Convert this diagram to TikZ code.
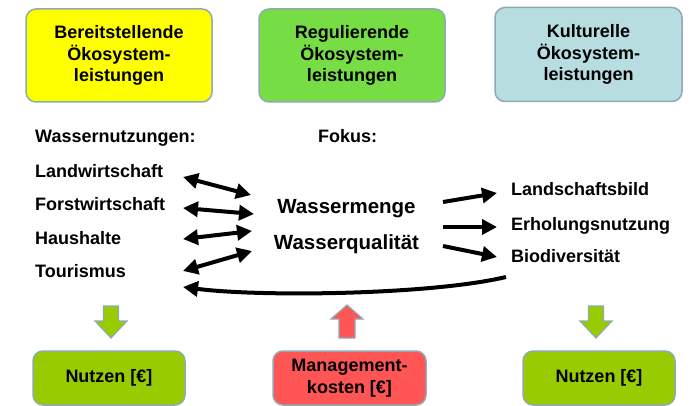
\documentclass[tikz,border=0pt]{standalone}
\usepackage{fontspec}
\setmainfont{Liberation Sans}
\usetikzlibrary{arrows.meta}
\definecolor{cyellow}{RGB}{255,255,0}
\definecolor{cgreen}{RGB}{119,221,68}
\definecolor{cblue}{RGB}{183,221,224}
\definecolor{cnutz}{RGB}{153,204,0}
\definecolor{cred}{RGB}{255,85,85}
\definecolor{cborder}{RGB}{145,170,178}
\begin{document}
\begin{tikzpicture}[x=1pt,y=-1pt,
  box/.style={draw=cborder, line width=1.5pt, rounded corners=10pt, inner sep=0pt,
    align=center, font=\fontsize{18}{21.5}\selectfont\bfseries},
  lbl/.style={anchor=base west, inner sep=0pt, font=\fontsize{18}{21}\selectfont\bfseries},
  bigl/.style={anchor=base, inner sep=0pt, font=\fontsize{20.5}{24}\selectfont\bfseries},
  arr/.style={line width=4pt, -{Triangle[length=15pt,width=15pt]}},
  darr/.style={line width=4pt, {Triangle[length=15pt,width=15pt]}-{Triangle[length=15pt,width=15pt]}},
  blk/.style={draw=cborder, line width=1.2pt, line join=miter}]
\useasboundingbox (0,0) rectangle (691,406);

% top boxes
\node[box, fill=cyellow, minimum width=186pt, minimum height=93pt] (b1) at (119,55.5)
  {Bereitstellende\\Ökosystem-\\leistungen};
\node[box, fill=cgreen, minimum width=186pt, minimum height=93pt] (b2) at (352,55.5)
  {Regulierende\\Ökosystem-\\leistungen};
\node[box, fill=cblue, minimum width=187pt, minimum height=94pt] (b3) at (588.5,54.5)
  {Kulturelle\\Ökosystem-\\leistungen};

% bottom boxes
\node[box, fill=cnutz, minimum width=152pt, minimum height=54pt] (n1) at (109,378)
  {Nutzen [€]};
\node[box, fill=cred, minimum width=153pt, minimum height=54pt] (mk) at (349.5,378)
  {Management-\\kosten [€]};
\node[box, fill=cnutz, minimum width=152pt, minimum height=54pt] (n2) at (599,378)
  {Nutzen [€]};

% left labels
\node[lbl] (wn) at (35,143) {Wassernutzungen:};
\node[lbl] (lw) at (35,178) {Landwirtschaft};
\node[lbl] (fw) at (35,211) {Forstwirtschaft};
\node[lbl] (hh) at (35,244) {Haushalte};
\node[lbl] (tr) at (35,278) {Tourismus};

% center labels
\node[lbl] (fk) at (318,143) {Fokus:};
\node[bigl] (wm) at (346.5,214) {Wassermenge};
\node[bigl] (wq) at (346.5,250) {Wasserqualität};

% right labels
\node[lbl] (lb) at (511,196) {Landschaftsbild};
\node[lbl] (en) at (511,231) {Erholungsnutzung};
\node[lbl] (bd) at (511,262) {Biodiversität};

% arrow end points
\coordinate (l1a) at (183,177); \coordinate (l1b) at (251,195);
\coordinate (l2a) at (183,208); \coordinate (l2b) at (254,214);
\coordinate (l3a) at (183,239); \coordinate (l3b) at (252,231);
\coordinate (l4a) at (183,271); \coordinate (l4b) at (252,251);
\coordinate (r1a) at (443,202); \coordinate (r1b) at (497,193);
\coordinate (r2a) at (443,227); \coordinate (r2b) at (497,227);
\coordinate (r3a) at (443,246); \coordinate (r3b) at (497,257);
\coordinate (ca) at (506,277); \coordinate (cb) at (183,287);

\draw[darr] (l1a) -- (l1b);
\draw[darr] (l2a) -- (l2b);
\draw[darr] (l3a) -- (l3b);
\draw[darr] (l4a) -- (l4b);
\draw[arr] (r1a) -- (r1b);
\draw[arr] (r2a) -- (r2b);
\draw[arr] (r3a) -- (r3b);
\draw[arr] (ca) .. controls (430,295) and (260,297) .. (cb);

% block arrows
\draw[blk, fill=cnutz] (103.5,306) -- (118.5,306) -- (118.5,321) -- (127,321) -- (111,338)
  -- (95,321) -- (103.5,321) -- cycle;
\draw[blk, fill=cnutz] (588.5,306) -- (603.5,306) -- (603.5,321) -- (612,321) -- (596,338)
  -- (580,321) -- (588.5,321) -- cycle;
\draw[blk, fill=cred] (347,305) -- (363,319) -- (355,319) -- (355,338) -- (339,338)
  -- (339,319) -- (331,319) -- cycle;
\end{tikzpicture}
\end{document}
